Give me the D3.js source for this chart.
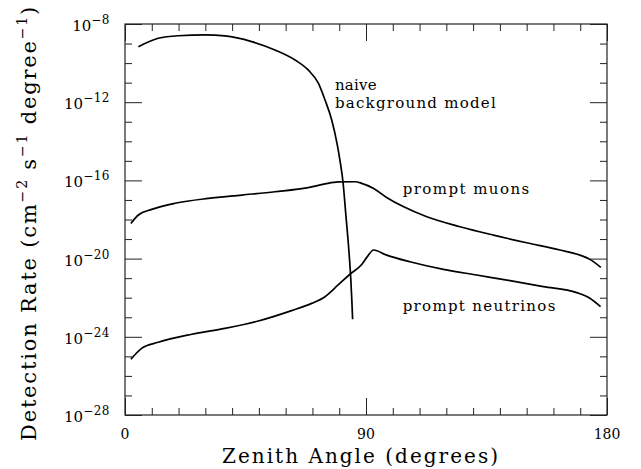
<!DOCTYPE html>
<html>
<head>
<meta charset="utf-8">
<script src="https://cdn.jsdelivr.net/npm/d3@7"></script>
<style>
  html, body { margin: 0; padding: 0; background: #fff; }
  svg { display: block; }
  text { font-family: "DejaVu Serif", "Liberation Serif", serif; fill: #000; }
</style>
</head>
<body>
<svg id="chart" width="641" height="469"></svg>
<script>
// Zenith angle (degrees) and log10 of detection rate for each curve
const naiveAngle = [5, 12.4, 19.9, 29.9, 37.3, 47.3, 56.0, 63.5, 68.4, 72.2, 74.7, 77.2, 79.3, 80.3, 81.4, 82.5, 83.5, 84.3, 84.7, 85.0];
const naiveLog   = [-9.16, -8.73, -8.60, -8.56, -8.61, -8.90, -9.33, -9.84, -10.35, -11.03, -11.89, -12.91, -14.2, -15.0, -16.07, -17.8, -19.4, -21.0, -22.1, -23.1];

const muonAngle = [2.2, 5.0, 10, 18.7, 31.1, 43.6, 56.0, 68.4, 74.7, 79.6, 85.9, 88.4, 92.7, 97.7, 103.9, 112.7, 125.1, 137.6, 150.0, 162.4, 169.9, 173.6, 177.7];
const muonLog   = [-18.2, -17.77, -17.48, -17.17, -16.92, -16.75, -16.58, -16.37, -16.18, -16.08, -16.07, -16.15, -16.4, -16.87, -17.34, -17.86, -18.37, -18.8, -19.19, -19.56, -19.82, -20.04, -20.45];

const nuAngle = [2.2, 6.2, 12.4, 24.9, 37.3, 49.8, 62.2, 69.7, 74.7, 79.6, 84.0, 88.4, 90.5, 92.8, 97.7, 106.4, 118.9, 131.3, 143.8, 156.2, 168.7, 173.6, 177.6];
const nuLog   = [-25.15, -24.59, -24.28, -23.87, -23.57, -23.19, -22.66, -22.29, -21.95, -21.35, -20.8, -20.3, -19.9, -19.56, -19.82, -20.16, -20.55, -20.84, -21.13, -21.43, -21.74, -22.03, -22.46];

// Axis ticks
const xMajorTicks = [0, 90, 180];
const xMinorTicks = [10, 20, 30, 40, 50, 60, 70, 80, 100, 110, 120, 130, 140, 150, 160, 170];
const yMajorExp = [-8, -12, -16, -20, -24, -28];
const yMinorExp = [-9, -10, -11, -13, -14, -15, -17, -18, -19, -21, -22, -23, -25, -26, -27];

const curveLabels = [
  { text: "naive", angle: 78.4, exp: -11.38 },
  { text: "background model", angle: 78.4, exp: -12.3 },
  { text: "prompt muons", angle: 103.7, exp: -16.72 },
  { text: "prompt neutrinos", angle: 103.7, exp: -22.68 }
];

const svg = d3.select("#chart");
const plotLeft = 125, plotRight = 607, plotTop = 24, plotBottom = 415;

const x = d3.scaleLinear().domain([0, 180]).range([plotLeft, plotRight]);
const y = d3.scaleLog().domain([1e-28, 1e-8]).range([plotBottom, plotTop]);

// inward ticks on all four sides
const minorLen = 7, majorLen = 17;
function tickAxis(axisFn, scale, values, len, transform) {
  const g = svg.append("g")
    .attr("transform", transform)
    .call(axisFn(scale).tickValues(values).tickSize(-len).tickFormat(""));
  g.select(".domain").remove();
  g.selectAll(".tick line").attr("stroke", "#222").attr("stroke-width", 1);
}
const yVals = e => e.map(v => 10 ** v);
tickAxis(d3.axisBottom, x, xMinorTicks, minorLen, `translate(0,${plotBottom})`);
tickAxis(d3.axisBottom, x, xMajorTicks, majorLen, `translate(0,${plotBottom})`);
tickAxis(d3.axisTop, x, xMinorTicks, minorLen, `translate(0,${plotTop})`);
tickAxis(d3.axisTop, x, xMajorTicks, majorLen, `translate(0,${plotTop})`);
tickAxis(d3.axisLeft, y, yVals(yMinorExp), minorLen, `translate(${plotLeft},0)`);
tickAxis(d3.axisLeft, y, yVals(yMajorExp), majorLen, `translate(${plotLeft},0)`);
tickAxis(d3.axisRight, y, yVals(yMinorExp), minorLen, `translate(${plotRight},0)`);
tickAxis(d3.axisRight, y, yVals(yMajorExp), majorLen, `translate(${plotRight},0)`);

// frame
svg.append("rect")
  .attr("x", plotLeft).attr("y", plotTop)
  .attr("width", plotRight - plotLeft).attr("height", plotBottom - plotTop)
  .attr("fill", "none").attr("stroke", "#222").attr("stroke-width", 1.2);

// x tick labels
svg.append("g").selectAll("text").data(xMajorTicks).join("text")
  .attr("x", d => x(d)).attr("y", 439)
  .attr("text-anchor", "middle").attr("font-size", 14)
  .text(d => d);

// y tick labels: 10 with superscript exponent
const yl = svg.append("g").selectAll("text").data(yMajorExp).join("text")
  .attr("x", 110).attr("y", d => y(10 ** d) + 7)
  .attr("text-anchor", "end").attr("font-size", 15);
yl.append("tspan").text("10");
yl.append("tspan").attr("dy", -7).attr("font-size", 12).attr("letter-spacing", 0.5).text(d => "\u2212" + Math.abs(d));

// curves
const line = d3.line()
  .x(d => x(d[0]))
  .y(d => y(10 ** d[1]))
  .curve(d3.curveMonotoneX);

const series = [
  d3.zip(naiveAngle, naiveLog),
  d3.zip(muonAngle, muonLog),
  d3.zip(nuAngle, nuLog)
];
svg.append("g").selectAll("path").data(series).join("path")
  .attr("d", line)
  .attr("fill", "none").attr("stroke", "#000").attr("stroke-width", 1.7)
  .attr("stroke-linejoin", "round");

// spread text to a given width
function fitWidth(sel, target) {
  sel.each(function () {
    const n = this.getNumberOfChars();
    const w = this.getComputedTextLength();
    d3.select(this).attr("letter-spacing", (target - w) / n);
  });
}

// curve labels
const labelWidths = { "naive": 42, "background model": 162, "prompt muons": 128, "prompt neutrinos": 154 };
const cl = svg.append("g").selectAll("text").data(curveLabels).join("text")
  .attr("x", d => x(d.angle)).attr("y", d => y(10 ** d.exp))
  .attr("font-size", 15)
  .text(d => d.text);
cl.each(function (d) { fitWidth(d3.select(this), labelWidths[d.text]); });

// axis titles
const xt = svg.append("text")
  .attr("x", 222).attr("y", 463)
  .attr("font-size", 20)
  .text("Zenith Angle (degrees)");
fitWidth(xt, 278);

const yt = svg.append("text")
  .attr("transform", "translate(36,441) rotate(-90)")
  .attr("font-size", 21);
yt.append("tspan").text("Detection Rate (cm");
yt.append("tspan").attr("dy", -9).attr("font-size", 14).text("\u22122");
yt.append("tspan").attr("dy", 9).text(" s");
yt.append("tspan").attr("dy", -9).attr("font-size", 14).text("\u22121");
yt.append("tspan").attr("dy", 9).text(" degree");
yt.append("tspan").attr("dy", -9).attr("font-size", 14).text("\u22121");
yt.append("tspan").attr("dy", 9).text(")");
fitWidth(yt, 436);
</script>
</body>
</html>
